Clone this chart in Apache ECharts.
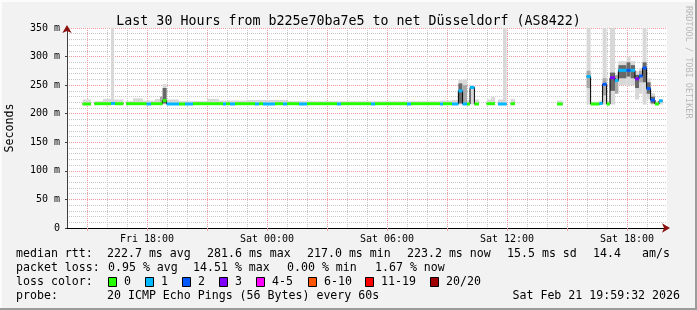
<!DOCTYPE html>
<html><head><meta charset="utf-8">
<script src="https://cdn.jsdelivr.net/npm/echarts@6/dist/echarts.min.js"></script>
<style>html,body{margin:0;padding:0;background:#f2f2f2}#c{width:697px;height:310px}</style>
</head><body><div id="c"></div><script>
// ---------- DATA (x = hours after Fri 14:00, y = ms) ----------
const segStart  = [0.78,1.37,2.20,2.40,2.95,3.98,4.20,4.78,4.98,5.60,5.90,6.30,7.80,7.95,8.15,8.40,9.40,9.60,9.80,10.40,10.80,11.00,11.60,12.00,13.50,13.70,15.20,15.40,17.00,17.20,18.65,18.80,19.25,19.57,19.78,20.00,20.15,20.37,20.98,21.55,22.18,24.50,25.98,26.18,26.62,26.78,26.98,27.15,27.40,27.57,27.98,28.18,28.40,28.60,28.78,28.98,29.18,29.40,29.60];
const segEnd    = [1.20,2.20,2.40,2.82,3.98,4.20,4.78,4.98,5.60,5.90,6.30,7.80,7.95,8.15,8.40,9.40,9.60,9.80,10.40,10.80,11.00,11.60,12.00,13.50,13.70,15.20,15.40,17.00,17.20,18.65,18.80,19.25,19.57,19.78,20.00,20.15,20.37,20.60,21.40,21.98,22.40,24.78,26.18,26.62,26.78,26.98,27.15,27.40,27.57,27.98,28.18,28.40,28.60,28.78,28.98,29.18,29.40,29.60,29.78];
const segMedian = [217,217.5,218,217.5,217.5,217,217.5,223,217,217,217,217.5,217,217.5,217,217.5,217,217.5,217,217.5,217,217.5,217,217.5,217,217.5,217,217.5,217,217.5,217,217.5,217,240,217,217,246,217,217.5,217,217.5,217,265,217,218,251.5,217,263,258,276,276,276,261,266,280,244,224,217,222.5];
const segLoss   = [0,0,1,0,0,1,0,0,1,0,1,0,1,0,1,0,1,0,1,0,1,0,1,0,1,0,1,0,1,0,1,0,1,1,1,0,1,0,0,1,0,0,1,0,1,2,0,3,1,1,2,1,3,2,2,2,2,0,1];

// smoke bands: start, end, low, high, tone (0 light, 1 mid, 2 dark)
const smokeStart = [0.78,1.37,1.80,2.20,2.35,2.95,3.30,3.80,4.40,4.65,4.78,4.78,4.98,5.60,7.00,7.60,9.00,11.00,12.00,18.65,19.25,19.57,19.57,19.78,19.78,20.00,20.15,20.37,20.98,21.20,21.55,21.80,22.18,24.50,25.98,25.98,26.18,26.62,26.78,26.78,26.98,27.15,27.15,27.40,27.57,27.57,27.98,27.98,28.18,28.18,28.40,28.40,28.60,28.60,28.78,28.78,28.98,28.98,29.18,29.18,29.40,29.60];
const smokeEnd   = [1.20,1.80,2.20,2.35,2.82,3.30,3.80,4.40,4.78,4.78,4.98,4.98,5.60,7.00,7.60,9.00,11.00,12.00,18.65,19.25,19.57,19.78,19.78,20.00,20.00,20.15,20.37,20.60,21.20,21.40,21.80,21.98,22.40,24.78,26.18,26.18,26.62,26.78,26.98,26.98,27.15,27.40,27.40,27.57,27.98,27.98,28.18,28.18,28.40,28.40,28.60,28.60,28.78,28.78,28.98,28.98,29.18,29.18,29.40,29.40,29.60,29.78];
const smokeLow   = [216,216,216,216,216,216,216,216,216,218,216,218,216,216,216,216,216,216,216,216,216,216,218,216,219,216,216,216,216,216,216,216,216,216,216,245,216,216,216,232,216,216,240,235,250,262,248,265,250,262,225,245,235,255,216,255,225,235,216,218,216,216];
const smokeHigh  = [225,222,226,360,225,222,227,223,226,230,252,245,225,222,226,223,224,222,222,223,224,259,253,260,250,224,250,225,225,229,225,360,226,223,360,275,221,223,360,262,222,360,272,268,292,285,300,290,292,285,275,268,280,275,360,290,262,255,236,230,222,225];
const smokeTone  = [0,0,0,0,0,0,0,0,0,1,0,2,0,0,0,0,0,0,0,0,0,0,2,0,1,0,0,0,0,0,0,0,0,0,0,1,0,0,0,1,0,0,2,1,0,2,0,2,0,2,0,2,0,1,0,2,0,2,0,2,0,0];

// axes
const minorGridHours = [2,3,5,6,8,9,11,12,14,15,17,18,20,21,23,24,26,27,29];
const majorGridHours = [1,4,7,10,13,16,19,22,25,28];
const labelHours = [4,10,16,22,28];
const xTickLabels = ['Fri 18:00','Sat 00:00','Sat 06:00','Sat 12:00','Sat 18:00'];
const yTickValues = [0,50,100,150,200,250,300,350];
const yTickLabels = ['0','50 m','100 m','150 m','200 m','250 m','300 m','350 m'];

// legend
const lossColors = ['#26ff00','#00b8ff','#0059ff','#7e00ff','#ff00ff','#ff5500','#ff0000','#a10000'];
const lossLabels = ['0','1','2','3','4-5','6-10','11-19','20/20'];
const rttStats = ['222.7 ms avg','281.6 ms max','217.0 ms min','223.2 ms now','15.5 ms sd','14.4','am/s'];
const lossStats = ['0.95 % avg','14.51 % max','0.00 % min','1.67 % now'];
const probeText = '20 ICMP Echo Pings (56 Bytes) every 60s';
const dateText = 'Sat Feb 21 19:59:32 2026';
const titleText = 'Last 30 Hours from b225e70ba7e5 to net Düsseldorf (AS8422)';

// ---------- BUILD ----------
const MONO = "'DejaVu Sans Mono', monospace";
const smokeTones = ['#d8d8d8','#a8a8a8','#686868'];

const smokeData = smokeStart.map((s,i)=>[s, smokeEnd[i], smokeLow[i], smokeHigh[i], smokeTone[i]]);
const segData = segStart.map((s,i)=>[s, segEnd[i], segMedian[i], segLoss[i]]);
const lineData = [];
segStart.forEach((s,i)=>{
  if (i>0 && Math.abs(s-segEnd[i-1])>0.01) lineData.push([(s+segEnd[i-1])/2, null]);
  lineData.push([s, segMedian[i]], [segEnd[i], segMedian[i]]);
});

const chart = echarts.init(document.getElementById('c'), null, {renderer:'canvas'});

const txt = (x,y,t,extra)=>({type:'text', x, y, style:Object.assign({text:t, font:'11.6px '+MONO, fill:'#000', textVerticalAlign:'middle', textAlign:'left'}, extra||{})});

const graphics = [];
graphics.push({type:'rect', shape:{x:0,y:0,width:697,height:2}, style:{fill:'#fcfcfc'}});
graphics.push({type:'rect', shape:{x:0,y:0,width:2,height:310}, style:{fill:'#fcfcfc'}});
graphics.push({type:'rect', shape:{x:695,y:0,width:2,height:310}, style:{fill:'#9c9c9c'}});
graphics.push({type:'rect', shape:{x:0,y:308,width:697,height:2}, style:{fill:'#9c9c9c'}});
const sec = txt(10,128,'Seconds',{textAlign:'center'}); sec.rotation = Math.PI/2; graphics.push(sec);
graphics.push({type:'text', x:688, y:6, rotation:-Math.PI/2, style:{text:'RRDTOOL / TOBI OETIKER', font:'8.5px '+MONO, fill:'#b8b8b8', textAlign:'left', textVerticalAlign:'middle'}});
// legend rows
const rttX = [107,207,307,407,507,593,642];
graphics.push(txt(16,254,'median rtt:'));
rttStats.forEach((t,i)=>graphics.push(txt(rttX[i],254,t)));
const lossX = [108,193,287,375];
graphics.push(txt(16,268,'packet loss:'));
lossStats.forEach((t,i)=>graphics.push(txt(lossX[i],268,t)));
graphics.push(txt(16,282,'loss color:'));
const boxX = [108,145,182,219,256,308,365,430];
lossLabels.forEach((t,i)=>{
  graphics.push({type:'rect', shape:{x:boxX[i]+0.5,y:277.5,width:8,height:9}, style:{fill:lossColors[i], stroke:'#000', lineWidth:1}});
  graphics.push(txt(boxX[i]+16,282,t));
});
graphics.push(txt(16,296,'probe:'));
graphics.push(txt(107,296,probeText));
graphics.push(txt(680,296,dateText,{textAlign:'right'}));

const xFmt = v => { const i = labelHours.indexOf(Math.round(v)); return i>=0 ? xTickLabels[i] : ''; };
const yFmt = v => { const i = yTickValues.indexOf(Math.round(v)); return i>=0 ? yTickLabels[i] : ''; };

chart.setOption({
  animation:false,
  backgroundColor:'#f2f2f2',
  title:{text:titleText, left:'center', top:10, textStyle:{fontFamily:MONO, fontSize:13.3, fontWeight:'normal', color:'#000'}},
  grid:{left:67, top:28, width:600, height:200, show:true, backgroundColor:'#ffffff', borderWidth:0, outerBoundsMode:'none'},
  xAxis:[
    {type:'value', position:'bottom', min:0, max:30, axisLine:{show:true, onZero:false, lineStyle:{color:'#8b1010', width:0}, symbol:['none','arrow'], symbolSize:[7,8], symbolOffset:[0,3]},
     axisTick:{show:false, customValues:minorGridHours}, axisLabel:{show:false},
     splitLine:{show:true, lineStyle:{color:'#c8c8c8', width:1, type:[1,1]}}},
    {type:'value', position:'bottom', min:0, max:30, axisLine:{show:true, onZero:false, lineStyle:{color:'#000', width:1}},
     axisTick:{show:true, customValues:majorGridHours, length:3, lineStyle:{color:'#f0a0a0'}},
     axisLabel:{show:true, customValues:labelHours, formatter:xFmt, fontFamily:MONO, fontSize:10, color:'#000', margin:6},
     splitLine:{show:true, lineStyle:{color:'#f09c9c', width:1, type:[1,1]}}}
  ],
  yAxis:[
    {type:'value', position:'left', min:0, max:350, interval:10, axisLine:{show:true, onZero:false, lineStyle:{color:'#8b1010', width:0}, symbol:['none','arrow'], symbolSize:[7,8], symbolOffset:[0,3]},
     axisTick:{show:false}, axisLabel:{show:false},
     splitLine:{show:true, lineStyle:{color:'#c8c8c8', width:1, type:[1,1]}}},
    {type:'value', position:'left', min:0, max:350, interval:50, axisLine:{show:true, onZero:false, lineStyle:{color:'#404040', width:1}},
     axisTick:{show:true, length:2, lineStyle:{color:'#404040'}},
     axisLabel:{show:true, formatter:yFmt, fontFamily:MONO, fontSize:10, color:'#000', margin:7},
     splitLine:{show:true, lineStyle:{color:'#f09c9c', width:1, type:[1,1]}}}
  ],
  graphic:graphics,
  series:[
    {type:'custom', name:'smoke', xAxisIndex:1, yAxisIndex:1, clip:true, z:2, encode:{x:[0,1], y:[2,3]},
     data:smokeData,
     renderItem:(params, api)=>{
       const a = api.coord([api.value(0), api.value(3)]);
       const b = api.coord([api.value(1), api.value(2)]);
       return {type:'rect', shape:{x:a[0], y:a[1], width:b[0]-a[0], height:b[1]-a[1]}, style:{fill:smokeTones[api.value(4)]}};
     }},
    {type:'line', name:'median', xAxisIndex:1, yAxisIndex:1, z:3, data:lineData, showSymbol:false, connectNulls:false,
     lineStyle:{color:'#000', width:1}},
    {type:'custom', name:'loss', xAxisIndex:1, yAxisIndex:1, clip:true, z:4, encode:{x:[0,1], y:2},
     data:segData,
     renderItem:(params, api)=>{
       const a = api.coord([api.value(0), api.value(2)]);
       const b = api.coord([api.value(1), api.value(2)]);
       return {type:'rect', shape:{x:a[0], y:a[1]-1.5, width:b[0]-a[0], height:3}, style:{fill:lossColors[api.value(3)]}};
     }}
  ]
});
</script></body></html>
